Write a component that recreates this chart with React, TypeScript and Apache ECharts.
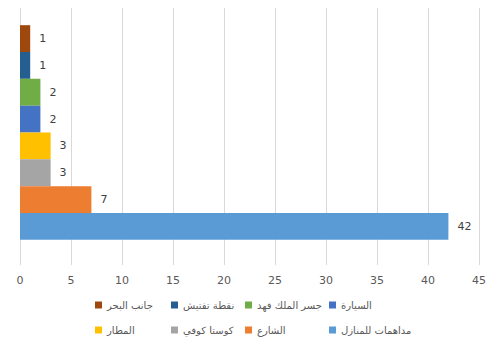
import React, { useEffect, useRef } from "react";
import * as echarts from "echarts";

// Bottom-to-top order (Excel series order)
const seriesNames = [
  "مداهمات للمنازل",
  "الشارع",
  "كوستا كوفي",
  "المطار",
  "السيارة",
  "جسر الملك فهد",
  "نقطة تفتيش",
  "جانب البحر",
];
const seriesValues = [42, 7, 3, 3, 2, 2, 1, 1];
const seriesColors = [
  "#5B9BD5",
  "#ED7D31",
  "#A5A5A5",
  "#FFC000",
  "#4472C4",
  "#70AD47",
  "#255E91",
  "#9E480E",
];
const xTicks = { min: 0, max: 45, interval: 5 };

// Legend columns (left to right), each with two rows
const legendColumns = [
  ["جانب البحر", "المطار"],
  ["نقطة تفتيش", "كوستا كوفي"],
  ["جسر الملك فهد", "الشارع"],
  ["السيارة", "مداهمات للمنازل"],
];
const legendLefts = [95, 171, 245, 329];

const FONT = "'DejaVu Sans', 'Noto Sans', sans-serif";

export default function App() {
  const ref = useRef<HTMLDivElement>(null);
  useEffect(() => {
    if (!ref.current) return;
    const chart = echarts.init(ref.current, undefined, { renderer: "svg" });
    const order = seriesNames.map((_, i) => i).reverse(); // first series drawn at top
    const series = order.map((i) => ({
      type: "bar" as const,
      name: seriesNames[i],
      data: [seriesValues[i]],
      itemStyle: { color: seriesColors[i] },
      barGap: "0%",
      barCategoryGap: "19%",
      label: {
        show: true,
        position: "right" as const,
        distance: 9,
        color: "#404040",
        fontSize: 11,
        fontFamily: FONT,
      },
    }));
    chart.setOption({
      animation: false,
      backgroundColor: "#ffffff",
      grid: { left: 20, right: 21, top: 0, bottom: 86, containLabel: false },
      xAxis: {
        type: "value",
        min: xTicks.min,
        max: xTicks.max,
        interval: xTicks.interval,
        axisLine: { show: false },
        axisTick: { show: false },
        splitLine: { show: true, lineStyle: { color: "#d9d9d9", width: 1 } },
        axisLabel: { color: "#595959", fontSize: 11, fontFamily: FONT, margin: 10 },
      },
      yAxis: {
        type: "category",
        data: [""],
        axisLine: { show: false },
        axisTick: { show: false },
        axisLabel: { show: false },
      },
      legend: legendColumns.map((col, ci) => ({
        data: col,
        orient: "vertical",
        left: legendLefts[ci],
        top: 298,
        itemGap: 11,
        itemWidth: 7,
        itemHeight: 7,
        icon: "rect",
        selectedMode: false,
        padding: 0,
        textStyle: { color: "#595959", fontSize: 10, fontFamily: FONT, lineHeight: 14 },
      })),
      graphic: [
        {
          type: "line",
          shape: { x1: 3, y1: 0, x2: 3, y2: 351 },
          style: { stroke: "#e6e6e6", lineWidth: 1 },
        },
      ],
      series,
    });
    return () => chart.dispose();
  }, []);
  return <div ref={ref} style={{ width: 500, height: 351, margin: -8 }} />;
}
